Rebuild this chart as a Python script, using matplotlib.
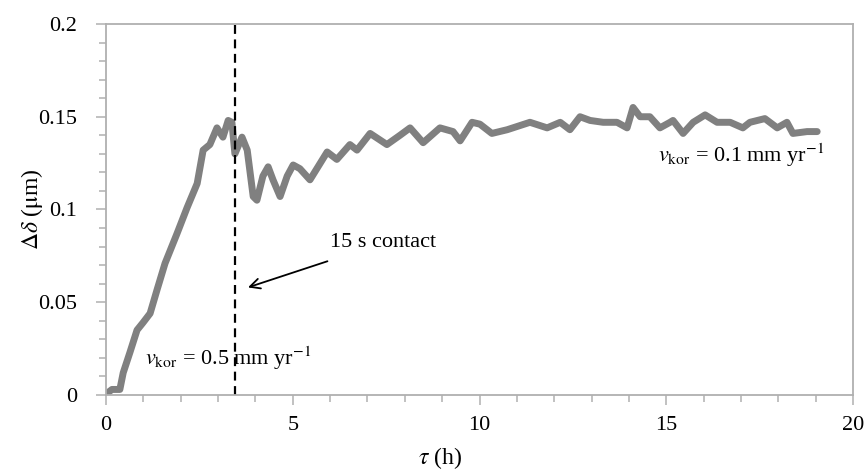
import numpy as np
import matplotlib
matplotlib.use("Agg")
import matplotlib.pyplot as plt
from matplotlib.ticker import MultipleLocator

plt.rcParams['font.family'] = ['Liberation Serif', 'DejaVu Serif']
plt.rcParams['mathtext.fontset'] = 'stix'

# data (tau in h, delta in um)
tau = [0.03, 0.16, 0.32, 0.37, 0.46, 0.64, 0.83, 0.99, 1.18, 1.37, 1.58, 1.90,
       2.17, 2.44, 2.60, 2.78, 2.97, 3.13, 3.27, 3.37, 3.45, 3.64, 3.78, 3.94,
       4.04, 4.20, 4.34, 4.47, 4.66, 4.85, 5.01, 5.19, 5.46, 5.92, 6.18, 6.53,
       6.72, 7.07, 7.52, 7.87, 8.14, 8.49, 8.94, 9.29, 9.48, 9.80, 10.01, 10.33,
       10.74, 11.35, 11.81, 12.16, 12.42, 12.69, 12.96, 13.31, 13.68, 13.95,
       14.11, 14.30, 14.56, 14.83, 15.10, 15.18, 15.45, 15.72, 16.04, 16.36,
       16.71, 17.05, 17.24, 17.64, 17.97, 18.23, 18.39, 18.77, 19.04]
delta = [0.001, 0.003, 0.003, 0.003, 0.012, 0.023, 0.035, 0.039, 0.044, 0.057,
         0.071, 0.087, 0.101, 0.114, 0.132, 0.135, 0.144, 0.139, 0.148, 0.147,
         0.130, 0.139, 0.132, 0.107, 0.105, 0.118, 0.123, 0.116, 0.107, 0.118,
         0.124, 0.122, 0.116, 0.131, 0.127, 0.135, 0.132, 0.141, 0.135, 0.140,
         0.144, 0.136, 0.144, 0.142, 0.137, 0.147, 0.146, 0.141, 0.143, 0.147,
         0.144, 0.147, 0.143, 0.150, 0.148, 0.147, 0.147, 0.144, 0.155, 0.150,
         0.150, 0.144, 0.147, 0.148, 0.141, 0.147, 0.151, 0.147, 0.147, 0.144,
         0.147, 0.149, 0.144, 0.147, 0.141, 0.142, 0.142]

contact_time = 3.45

fig = plt.figure(figsize=(8.67, 4.72), dpi=100)
ax = fig.add_axes([0.1223, 0.1631, 0.8616, 0.7861])

ax.plot(tau, delta, color='#808080', lw=5, solid_joinstyle='round',
        solid_capstyle='round')
ax.axvline(contact_time, color='black', lw=1.6, linestyle=(0, (4, 2.5)))

ax.set_xlim(0, 20)
ax.set_ylim(0, 0.2)
ax.xaxis.set_major_locator(MultipleLocator(5))
ax.xaxis.set_minor_locator(MultipleLocator(1))
ax.yaxis.set_major_locator(MultipleLocator(0.05))
ax.yaxis.set_minor_locator(MultipleLocator(0.01))
ax.set_yticks([0, 0.05, 0.1, 0.15, 0.2])
ax.set_yticklabels(['0', '0.05', '0.1', '0.15', '0.2'])

for s in ax.spines.values():
    s.set_color('#b0b0b0')
    s.set_linewidth(1.3)
ax.tick_params(which='both', direction='out', color='#b0b0b0', width=1.1,
               labelsize=16)
ax.tick_params(axis='y', pad=14)
ax.tick_params(axis='x', pad=8)
ax.tick_params(which='major', length=7)
ax.tick_params(which='minor', length=5)

ax.set_xlabel(r'$\tau$ (h)', fontsize=17)
ax.set_ylabel(r'$\Delta\delta$ ($\mathrm{\mu}$m)', fontsize=17)
ax.xaxis.set_label_coords(0.447, -0.135)
ax.yaxis.set_label_coords(-0.082, 0.5)

ax.annotate('15 s contact', xy=(3.80, 0.058), xytext=(6.0, 0.082),
            fontsize=16, va='center', ha='left',
            arrowprops=dict(arrowstyle='->', color='black', lw=1.3,
                            shrinkA=14, shrinkB=0, mutation_scale=18))
ax.text(1.04, 0.020, r'$v_{\rm kor}$ = 0.5 mm yr$^{-1}$', fontsize=16,
        va='center', ha='left')
ax.text(14.78, 0.129, r'$v_{\rm kor}$ = 0.1 mm yr$^{-1}$', fontsize=16,
        va='center', ha='left')

fig.savefig('out.png', dpi=100)
